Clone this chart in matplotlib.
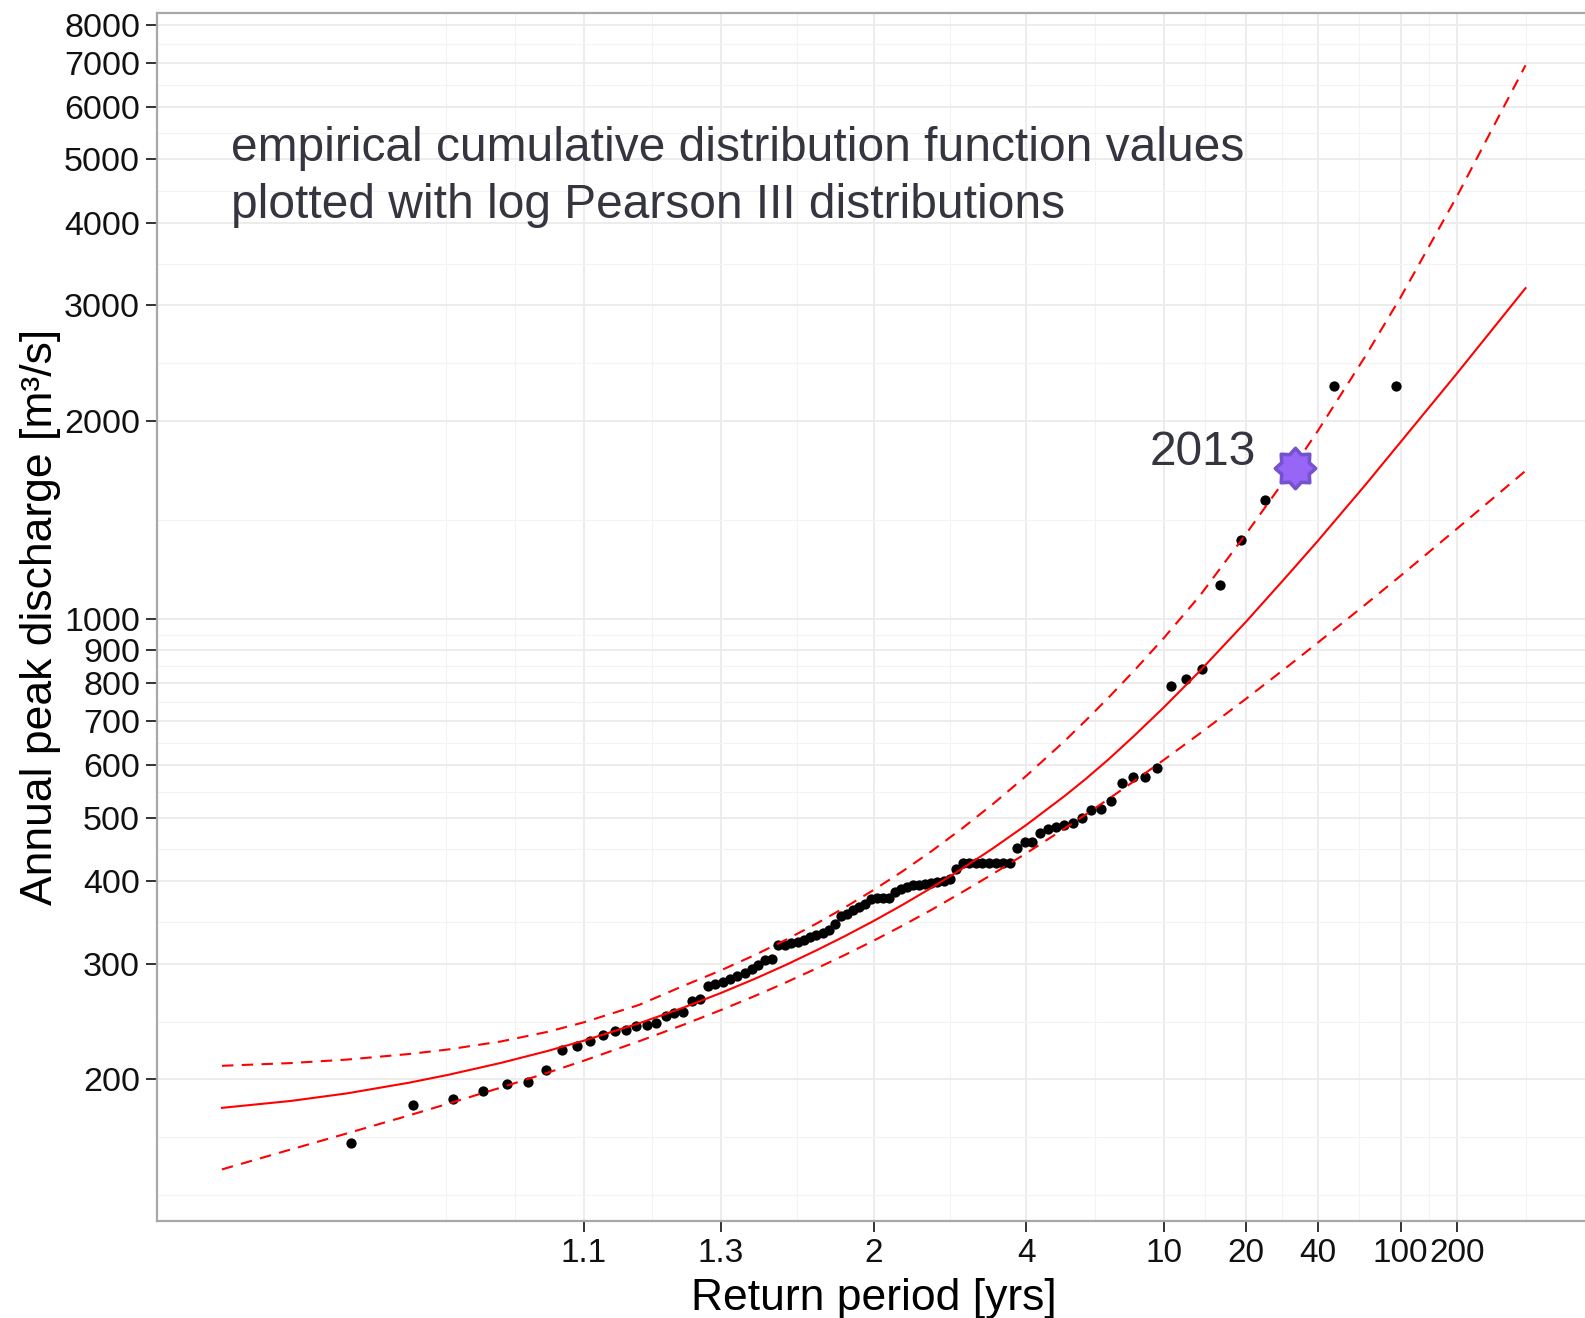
from statistics import NormalDist

import matplotlib
matplotlib.use("Agg")
import matplotlib.pyplot as plt
import numpy as np
from matplotlib.path import Path
from matplotlib.ticker import NullFormatter

plt.rcParams['font.family'] = ['Liberation Sans', 'DejaVu Sans']

# annual peak discharges [m3/s], sorted ascending
peaks = [160, 183, 187, 192, 197, 198, 207, 222, 225, 229,
         234, 237, 238, 241, 242, 244, 250, 252, 253, 263,
         265, 277, 279, 281, 284, 287, 290, 294, 298, 304,
         305, 320, 320, 322, 324, 326, 329, 331, 334, 337,
         345, 354, 357, 362, 366, 370, 376, 378, 378, 378,
         386, 389, 392, 395, 395, 396, 398, 399, 401, 404,
         418, 427, 427, 427, 427, 427, 427, 427, 427, 450,
         459, 459, 473, 480, 483, 487, 490, 499, 513, 515,
         530, 565, 576, 577, 594, 792, 811, 841, 1130, 1319,
         1519, 1697, 2264, 2264]
event_year = "2013"
event_peak = 1697

# log Pearson III fit and its confidence limits (non-exceedance prob -> m3/s)
prob = [0.002, 0.005, 0.01, 0.02, 0.03, 0.05, 0.075, 0.1, 0.15, 0.2, 0.25,
        0.3, 0.35, 0.4, 0.45, 0.5, 0.55, 0.6, 0.65, 0.7, 0.75, 0.8, 0.825,
        0.85, 0.875, 0.9, 0.925, 0.95, 0.965, 0.975, 0.985, 0.99, 0.995,
        0.998]
q_fit = [181.1, 185.5, 190.5, 197.7, 203.2, 212.0, 221.0, 229.0, 243.4,
         257.1, 270.7, 284.5, 298.9, 314.2, 330.5, 348.3, 368.2, 390.8,
         417.1, 448.5, 487.5, 538.8, 571.8, 612.8, 665.8, 735.6, 834.6,
         992.9, 1151, 1315, 1600, 1860, 2366, 3187]
q_upper = [209.8, 211.8, 214.4, 218.6, 222.1, 228.5, 236.3, 244.2, 259.6,
           277.4, 293.0, 309.2, 326.4, 345.0, 365.4, 388.2, 414.0, 444.1,
           479.9, 523.6, 578.9, 653.0, 701.3, 760.6, 836.2, 937.6, 1086,
           1350, 1624, 1932, 2509, 3086, 4398, 6950]
q_lower = [146.0, 156.5, 165.6, 176.3, 183.7, 194.5, 204.8, 213.5, 228.6,
           242.1, 255.0, 267.9, 281.1, 294.9, 309.4, 325.1, 342.4, 361.8,
           384.2, 410.2, 441.5, 481.0, 505.0, 533.5, 568.2, 612.0, 670.9,
           758.1, 839.9, 921.3, 1053, 1165, 1374, 1682]

x_breaks = [0.1, 0.25, 0.5, 0.75, 0.9, 0.95, 0.975, 0.99, 0.995]
x_labels = ['1.1', '1.3', '2', '4', '10', '20', '40', '100', '200']
y_breaks = [200, 300, 400, 500, 600, 700, 800, 900, 1000,
            2000, 3000, 4000, 5000, 6000, 7000, 8000]

nd = NormalDist()
_ppf = np.vectorize(nd.inv_cdf, otypes=[float])
_cdf = np.vectorize(nd.cdf, otypes=[float])


def probit(p):
    p = np.clip(np.asarray(p, dtype=float), 1e-9, 1 - 1e-9)
    return _ppf(p)


def unprobit(z):
    return _cdf(np.asarray(z, dtype=float))


def minor_breaks(b):
    # midpoints between majors, plus one step beyond each end
    b = np.asarray(b, dtype=float)
    step = b[1] - b[0]
    ext = np.concatenate([[b[0] - step], b, [b[-1] + step]])
    return np.concatenate([ext, (ext[:-1] + ext[1:]) / 2])


n = len(peaks)
pos = np.arange(1, n + 1) / (n + 1)
ev = peaks.index(event_peak)

zlim = 3.166
ylo, yhi = 10 ** 2.086, 10 ** 3.922

fig = plt.figure(figsize=(15.85, 13.18), dpi=100)
ax = fig.add_axes([0.0989, 0.0736, 0.9047, 0.9168])
ax.set_xscale('function', functions=(probit, unprobit))
ax.set_yscale('log')
ax.set_xlim(unprobit(-zlim), unprobit(zlim))
ax.set_ylim(ylo, yhi)

zmin = minor_breaks(probit(x_breaks))
zmin = zmin[np.abs(zmin) < zlim]
lmin = minor_breaks(np.log10(y_breaks))
lmin = lmin[(lmin > np.log10(ylo)) & (lmin < np.log10(yhi))]

ax.set_xticks(x_breaks, labels=x_labels)
ax.set_xticks(unprobit(zmin), minor=True)
ax.set_yticks(y_breaks, labels=[str(v) for v in y_breaks])
ax.set_yticks(10 ** lmin, minor=True)
ax.xaxis.set_minor_formatter(NullFormatter())
ax.yaxis.set_minor_formatter(NullFormatter())

ax.tick_params(which='major', length=8, width=1.4, color='#333333',
               labelcolor='#111111', pad=4)
ax.tick_params(axis='x', which='major', labelsize=24)
ax.tick_params(axis='y', which='major', labelsize=24.5)
ax.tick_params(which='minor', length=0)
ax.grid(which='minor', color='#F3F3F3', lw=0.8)
ax.grid(which='major', color='#EBEBEB', lw=1.3)
ax.set_axisbelow(True)
for sp in ax.spines.values():
    sp.set_color('#A8A8A8')
    sp.set_linewidth(1.6)

ax.plot(np.delete(pos, ev), np.delete(peaks, ev), 'o', color='black',
        ms=7.4, mec='none', zorder=3)

ax.plot(prob, q_fit, color='#FF0000', lw=1.5, zorder=4)
ax.plot(prob, q_upper, color='#FF0000', lw=1.5, dashes=(5.5, 4), zorder=4)
ax.plot(prob, q_lower, color='#FF0000', lw=1.5, dashes=(5.5, 4), zorder=4)

# 2013 flood marked with a star
ang = np.arange(16) * np.pi / 8 + np.pi / 2
rad = np.where(np.arange(16) % 2 == 0, 1.0, 0.74)
verts = np.column_stack([rad * np.cos(ang), rad * np.sin(ang)])
star = Path(np.vstack([verts, verts[:1]]), closed=True)
ax.plot(pos[ev], event_peak, marker=star, ms=29, mfc='#9866F6',
        mec='#7452D0', mew=2.6, ls='none', zorder=5)
ax.annotate(event_year, xy=(pos[ev], event_peak), xytext=(-39, 3),
            textcoords='offset pixels', ha='right', va='baseline',
            fontsize=34.5, color='#35353F', zorder=6)

ax.text(0.0515, 0.8773, 'empirical cumulative distribution function values',
        transform=ax.transAxes, ha='left', va='baseline', fontsize=34.5,
        color='#35353F')
ax.text(0.0515, 0.8301, 'plotted with log Pearson III distributions',
        transform=ax.transAxes, ha='left', va='baseline', fontsize=34.5,
        color='#35353F')

fig.text(0.0255, 0.532, 'Annual peak discharge [m³/s]', rotation=90,
         ha='center', va='center', fontsize=32, color='black')
fig.text(0.551, 0.0061, 'Return period [yrs]', ha='center', va='baseline',
         fontsize=32, color='black')

fig.savefig('out.png', dpi=100)
